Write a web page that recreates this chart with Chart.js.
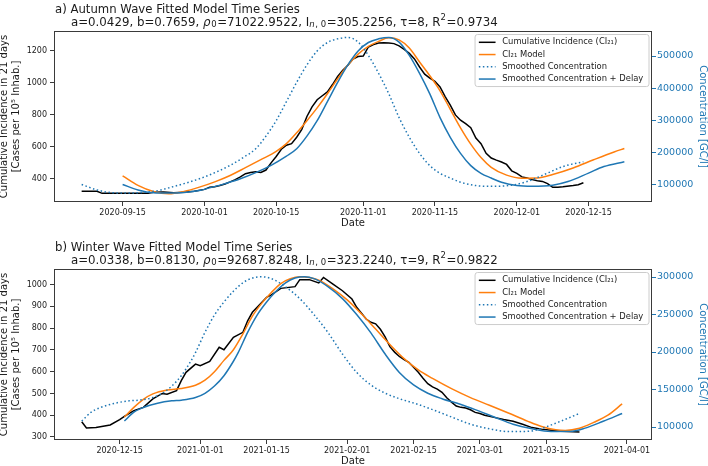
<!DOCTYPE html>
<html>
<head>
<meta charset="utf-8">
<script src="https://cdn.jsdelivr.net/npm/chart.js@4.4.0/dist/chart.umd.min.js"></script>
<style>
  html, body { margin: 0; padding: 0; background: #fff; overflow: hidden; }
  .panel { position: absolute; left: 0; width: 708px; height: 238px; }
  #panelA { top: 0; }
  #panelB { top: 238px; }
</style>
</head>
<body>
<div class="panel" id="panelA"><canvas id="autumnChart" width="708" height="238"></canvas></div>
<div class="panel" id="panelB"><canvas id="winterChart" width="708" height="238"></canvas></div>
<script>
// ---- a) autumn wave ----
const autumnCaseDates = ['2020-09-07','2020-09-10','2020-09-11','2020-09-20','2020-09-21','2020-09-23','2020-09-25','2020-09-27','2020-09-29',
  '2020-10-01','2020-10-02','2020-10-03','2020-10-04','2020-10-05','2020-10-06','2020-10-07','2020-10-08','2020-10-09','2020-10-10',
  '2020-10-11','2020-10-12','2020-10-13','2020-10-14','2020-10-15','2020-10-16','2020-10-17','2020-10-18','2020-10-19','2020-10-20',
  '2020-10-21','2020-10-22','2020-10-23','2020-10-24','2020-10-25','2020-10-26','2020-10-27','2020-10-28','2020-10-29','2020-10-30',
  '2020-10-31','2020-11-01','2020-11-02','2020-11-03','2020-11-04','2020-11-05','2020-11-06','2020-11-07','2020-11-08','2020-11-09',
  '2020-11-10','2020-11-11','2020-11-12','2020-11-13','2020-11-14','2020-11-15','2020-11-16','2020-11-17','2020-11-18','2020-11-19',
  '2020-11-20','2020-11-21','2020-11-22','2020-11-23','2020-11-24','2020-11-25','2020-11-26','2020-11-27','2020-11-28','2020-11-29',
  '2020-11-30','2020-12-01','2020-12-02','2020-12-03','2020-12-04','2020-12-05','2020-12-06','2020-12-07','2020-12-08','2020-12-09',
  '2020-12-10','2020-12-12','2020-12-13','2020-12-14'];
const autumnCases = [323,322,309,309,316,318,313,316,322,
  334,348,350,358,368,381,395,412,432,440,
  444,440,455,500,540,585,610,620,660,710,
  790,850,895,920,944,990,1040,1080,1111,1150,
  1165,1168,1225,1240,1250,1252,1250,1246,1232,1210,
  1185,1150,1100,1055,1030,1010,975,915,861,800,
  767,745,720,655,620,560,530,517,505,490,
  450,434,412,405,395,388,384,370,347,348,
  350,358,363,375];

const autumnModelDates = ['2020-09-15','2020-09-18','2020-09-21','2020-09-24','2020-09-27','2020-09-30','2020-10-03','2020-10-06',
  '2020-10-09','2020-10-12','2020-10-15','2020-10-17','2020-10-19','2020-10-21','2020-10-23','2020-10-25','2020-10-27','2020-10-29',
  '2020-10-31','2020-11-02','2020-11-04','2020-11-06','2020-11-08','2020-11-10','2020-11-12','2020-11-14','2020-11-16','2020-11-18',
  '2020-11-20','2020-11-22','2020-11-24','2020-11-26','2020-11-29','2020-12-02','2020-12-05','2020-12-08','2020-12-12','2020-12-16',
  '2020-12-20','2020-12-22'];
const autumnModel = [419,359,321,306,321,348,381,421,
  470,520,572,620,688,764,844,932,1026,1112,
  1180,1229,1260,1282,1269,1218,1131,1045,951,835,
  719,617,533,472,423,404,405,427,468,519,
  568,590];

const autumnConcDates = ['2020-09-07','2020-09-10','2020-09-13','2020-09-16','2020-09-19','2020-09-22','2020-09-24','2020-09-27',
  '2020-09-30','2020-10-03','2020-10-06','2020-10-09','2020-10-11','2020-10-13','2020-10-15','2020-10-17','2020-10-19','2020-10-21',
  '2020-10-23','2020-10-25','2020-10-27','2020-10-29','2020-10-31','2020-11-02','2020-11-04','2020-11-06','2020-11-08','2020-11-10',
  '2020-11-12','2020-11-14','2020-11-16','2020-11-18','2020-11-20','2020-11-23','2020-11-26','2020-11-30','2020-12-03','2020-12-07',
  '2020-12-10','2020-12-14'];
const autumnConc = [99500,82700,73800,72800,74900,80800,89000,102300,
  117300,136400,159300,188000,211000,250400,298500,358000,418000,472500,
  515700,542100,553600,558000,543500,502100,446000,382000,308100,246800,
  196400,158400,134400,119700,106700,96200,94000,97400,108800,135100,
  155400,170600];

const autumnDelay = 8;
const autumnParams = ['0.0429', '0.7659', '71022.9522', '305.2256', '8', '0.9734'];
const autumnDateTicks = ['2020-09-15','2020-10-01','2020-10-15','2020-11-01','2020-11-15','2020-12-01','2020-12-15'];
const autumnCaseTicks = [400, 600, 800, 1000, 1200];
const autumnConcTicks = [100000, 200000, 300000, 400000, 500000];

// ---- b) winter wave ----
const winterCaseDates = ['2020-12-07','2020-12-08','2020-12-10','2020-12-13','2020-12-15','2020-12-16','2020-12-18','2020-12-20','2020-12-22','2020-12-24',
  '2020-12-25','2020-12-27','2020-12-28','2020-12-29','2020-12-31','2021-01-01','2021-01-03','2021-01-05','2021-01-06','2021-01-08',
  '2021-01-10','2021-01-11','2021-01-12','2021-01-15','2021-01-16','2021-01-18','2021-01-21','2021-01-22','2021-01-24','2021-01-26',
  '2021-01-27','2021-01-29','2021-01-31','2021-02-02','2021-02-03','2021-02-05','2021-02-06','2021-02-07','2021-02-08','2021-02-09',
  '2021-02-10','2021-02-11','2021-02-12','2021-02-13','2021-02-14','2021-02-15','2021-02-16','2021-02-17','2021-02-18','2021-02-19',
  '2021-02-20','2021-02-21','2021-02-22','2021-02-23','2021-02-24','2021-02-25','2021-02-26','2021-02-27','2021-02-28','2021-03-01',
  '2021-03-02','2021-03-04','2021-03-06','2021-03-08','2021-03-10','2021-03-12','2021-03-14','2021-03-16','2021-03-18','2021-03-22'];
const winterCases = [370,341,343,355,380,395,421,436,475,500,
  496,513,559,597,635,628,647,712,701,758,
  781,834,873,942,953,983,991,1023,1023,1008,
  1033,1003,972,934,896,842,827,820,795,760,
  715,690,670,655,643,620,597,570,545,530,
  520,505,480,460,442,436,433,425,413,408,
  400,390,380,372,358,343,336,331,326,323];

const winterModelDates = ['2020-12-16','2020-12-18','2020-12-20','2020-12-22','2020-12-25','2020-12-28','2020-12-31','2021-01-02',
  '2021-01-04','2021-01-06','2021-01-08','2021-01-10','2021-01-12','2021-01-14','2021-01-16','2021-01-18','2021-01-20','2021-01-22',
  '2021-01-24','2021-01-26','2021-01-29','2021-02-01','2021-02-04','2021-02-07','2021-02-10','2021-02-13','2021-02-16','2021-02-19',
  '2021-02-23','2021-02-27','2021-03-03','2021-03-07','2021-03-11','2021-03-14','2021-03-17','2021-03-19','2021-03-22','2021-03-25',
  '2021-03-28','2021-03-31'];
const winterModel = [392,436,473,498,516,523,538,561,
  600,652,701,774,855,915,964,1005,1027,1036,
  1033,1021,981,930,866,796,725,660,608,569,
  522,481,446,410,373,348,333,330,340,367,
  400,452];

const winterConcDates = ['2020-12-07','2020-12-09','2020-12-11','2020-12-14','2020-12-17','2020-12-19','2020-12-22','2020-12-24','2020-12-26','2020-12-28',
  '2020-12-30','2020-12-31','2021-01-02','2021-01-04','2021-01-06','2021-01-08','2021-01-10','2021-01-12','2021-01-14','2021-01-16',
  '2021-01-19','2021-01-22','2021-01-25','2021-01-28','2021-01-31','2021-02-03','2021-02-06','2021-02-09','2021-02-12','2021-02-16',
  '2021-02-19','2021-02-23','2021-02-27','2021-03-03','2021-03-07','2021-03-11','2021-03-14','2021-03-18','2021-03-22'];
const winterConc = [108000,119800,126100,131700,134900,135800,139300,144900,154600,168400,
  187700,199200,226300,249300,266700,281100,292300,298600,300300,297800,
  286900,271200,249900,225500,197300,172800,156100,145100,137800,130000,
  123200,113400,103800,97600,94000,94200,98200,107700,118100];

const winterDelay = 9;
const winterParams = ['0.0338', '0.8130', '92687.8248', '323.2240', '9', '0.9822'];
const winterDateTicks = ['2020-12-15','2021-01-01','2021-01-15','2021-02-01','2021-02-15','2021-03-01','2021-03-15','2021-04-01'];
const winterCaseTicks = [300, 400, 500, 600, 700, 800, 900, 1000];
const winterConcTicks = [100000, 150000, 200000, 250000, 300000];

// ---- look ----
const FONT = '"DejaVu Sans", sans-serif';
const INK = '#1a1a1a';
const FRAME = '#3a3a3a';
const BLUE = '#1f77b4';
const ORANGE = '#ff7f0e';
const W = 708, H = 238;
const PLOT = { left: 54, right: 652, top: 31, bottom: 202 };

Chart.defaults.font.family = FONT;

function dayNum(s) {
  const [y, m, d] = s.split('-').map(Number);
  return Date.UTC(y, m - 1, d) / 86400000;
}

function pts(dates, vals, shift = 0) {
  return dates.map((d, i) => ({ x: dayNum(d) + shift, y: vals[i] }));
}

// mathtext-like subtitle: plain, italic, sub and sup runs
function paramParts(p) {
  return [
    ['a=' + p[0] + ', b=' + p[1] + ', ', ''],
    ['ρ', 'i'], ['0', 'sub'],
    ['=' + p[2] + ', I', ''], ['n', 'subi'], [', 0', 'sub'],
    ['=' + p[3] + ', τ=' + p[4] + ', R', ''], ['2', 'sup'],
    ['=' + p[5], '']
  ];
}

function drawRich(ctx, x, y, parts, size) {
  let cx = x;
  parts.forEach(([t, kind]) => {
    let s = size, dy = 0;
    if (kind === 'sub' || kind === 'subi') { s = size * 0.72; dy = size * 0.22; }
    if (kind === 'sup') { s = size * 0.72; dy = -size * 0.36; }
    const style = (kind === 'i' || kind === 'subi') ? 'italic ' : '';
    ctx.font = style + s + 'px ' + FONT;
    ctx.fillText(t, cx, y + dy);
    cx += ctx.measureText(t).width + (kind ? 0.6 : 0);
  });
}

// frame, titles and the boxed legend inside the plot
const panelDecor = {
  id: 'panelDecor',
  afterDraw(chart, args, opts) {
    const { ctx, chartArea: a } = chart;
    ctx.save();
    ctx.strokeStyle = FRAME;
    ctx.lineWidth = 1;
    ctx.strokeRect(a.left + 0.5, a.top + 0.5, a.right - a.left - 1, a.bottom - a.top - 1);

    ctx.fillStyle = INK;
    ctx.textBaseline = 'middle';
    ctx.textAlign = 'left';
    ctx.font = '11.7px ' + FONT;
    ctx.fillText(opts.title, a.left + 1, 9.5);
    drawRich(ctx, a.left + 17, 22.5, opts.subtitle, 11.8);

    // legend
    const items = chart.data.datasets;
    const fs = 8.4;
    ctx.font = fs + 'px ' + FONT;
    const tw = Math.max(...items.map(d => ctx.measureText(d.label).width));
    const boxW = 4.3 + 16.7 + 6.7 + tw + 5.2;
    const right = a.right - 3.5;
    const left = right - boxW;
    const top = a.top + 3;
    const rowH = 12.25;
    const boxH = 8.3 + rowH * (items.length - 1) + 7;
    ctx.beginPath();
    ctx.roundRect(left + 0.5, top + 0.5, boxW, boxH, 2.5);
    ctx.fillStyle = 'rgba(255,255,255,0.85)';
    ctx.fill();
    ctx.strokeStyle = '#cccccc';
    ctx.stroke();
    items.forEach((d, i) => {
      const y = top + 8.3 + i * rowH;
      ctx.beginPath();
      ctx.setLineDash(d.borderDash || []);
      ctx.strokeStyle = d.borderColor;
      ctx.lineWidth = 1.5;
      ctx.moveTo(left + 4.3, y);
      ctx.lineTo(left + 21, y);
      ctx.stroke();
      ctx.setLineDash([]);
      ctx.fillStyle = INK;
      ctx.fillText(d.label, left + 27.7, y);
    });
    ctx.restore();
  }
};

function makePanel(canvasId, p) {
  const datasets = [
    { label: 'Cumulative Incidence (CI₂₁)', data: pts(p.caseDates, p.cases), borderColor: '#000000', yAxisID: 'y', order: 3 },
    { label: 'CI₂₁ Model', data: pts(p.modelDates, p.model), borderColor: ORANGE, yAxisID: 'y', order: 2, cubicInterpolationMode: 'monotone' },
    { label: 'Smoothed Concentration', data: pts(p.concDates, p.conc), borderColor: BLUE, borderDash: [1.5, 2.5], yAxisID: 'y1', order: 1, cubicInterpolationMode: 'monotone' },
    { label: 'Smoothed Concentration + Delay', data: pts(p.concDates, p.conc, p.delay), borderColor: BLUE, yAxisID: 'y1', order: 0, cubicInterpolationMode: 'monotone' }
  ];
  datasets.forEach(d => { d.borderWidth = 1.5; d.pointRadius = 0; d.fill = false; });

  return new Chart(document.getElementById(canvasId), {
    type: 'line',
    data: { datasets },
    options: {
      responsive: false,
      animation: false,
      devicePixelRatio: 1,
      layout: { padding: { top: PLOT.top, left: 0, right: 0, bottom: 0 } },
      plugins: {
        legend: { display: false },
        tooltip: { enabled: false },
        panelDecor: { title: p.title, subtitle: paramParts(p.params) }
      },
      scales: {
        x: {
          type: 'linear',
          min: p.xMin,
          max: p.xMax,
          afterBuildTicks: s => { s.ticks = p.dateTicks.map(d => ({ value: dayNum(d) })); },
          afterFit: s => { s.height = H - PLOT.bottom; },
          ticks: { autoSkip: false, maxRotation: 0, color: INK, font: { size: 8 }, padding: 2,
            callback: (v, i) => p.dateTicks[i] },
          grid: { drawOnChartArea: false, tickLength: 4, tickColor: FRAME },
          border: { display: false },
          title: { display: true, text: 'Date', color: INK, font: { size: 10, lineHeight: 1.15 }, padding: { top: 0, bottom: 9 } }
        },
        y: {
          position: 'left',
          min: p.yMin,
          max: p.yMax,
          afterBuildTicks: s => { s.ticks = p.caseTicks.map(v => ({ value: v })); },
          afterFit: s => { s.width = PLOT.left; },
          ticks: { color: INK, font: { size: 8 }, padding: 3, callback: v => String(v) },
          grid: { drawOnChartArea: false, tickLength: 4, tickColor: FRAME },
          border: { display: false },
          title: { display: true, text: ['Cumulative Incidence in 21 days', '[Cases per 10⁵ Inhab.]'], color: INK,
            font: { size: 10, lineHeight: 1.15 }, padding: { top: -1, bottom: 0 } }
        },
        y1: {
          position: 'right',
          min: p.y1Min,
          max: p.y1Max,
          afterBuildTicks: s => { s.ticks = p.concTicks.map(v => ({ value: v })); },
          afterFit: s => { s.width = W - PLOT.right; },
          ticks: { color: BLUE, font: { size: 9.5 }, padding: 1, callback: v => String(v) },
          grid: { drawOnChartArea: false, tickLength: 4, tickColor: BLUE },
          border: { display: false },
          title: { display: true, text: 'Concentration [GC/l]', color: BLUE,
            font: { size: 10, lineHeight: 1.15 }, padding: { top: 0, bottom: 0 } }
        }
      }
    },
    plugins: [panelDecor]
  });
}

makePanel('autumnChart', {
  title: 'a) Autumn Wave Fitted Model Time Series',
  params: autumnParams,
  caseDates: autumnCaseDates, cases: autumnCases,
  modelDates: autumnModelDates, model: autumnModel,
  concDates: autumnConcDates, conc: autumnConc,
  delay: autumnDelay,
  dateTicks: autumnDateTicks, caseTicks: autumnCaseTicks, concTicks: autumnConcTicks,
  xMin: dayNum('2020-09-15') - 13.4, xMax: dayNum('2020-09-15') + 103.4,
  yMin: 255, yMax: 1325, y1Min: 45000, y1Max: 578000
});

makePanel('winterChart', {
  title: 'b) Winter Wave Fitted Model Time Series',
  params: winterParams,
  caseDates: winterCaseDates, cases: winterCases,
  modelDates: winterModelDates, model: winterModel,
  concDates: winterConcDates, conc: winterConc,
  delay: winterDelay,
  dateTicks: winterDateTicks, caseTicks: winterCaseTicks, concTicks: winterConcTicks,
  xMin: dayNum('2020-12-15') - 13.85, xMax: dayNum('2020-12-15') + 112.3,
  yMin: 286, yMax: 1072, y1Min: 82700, y1Max: 310700
});
</script>
</body>
</html>
